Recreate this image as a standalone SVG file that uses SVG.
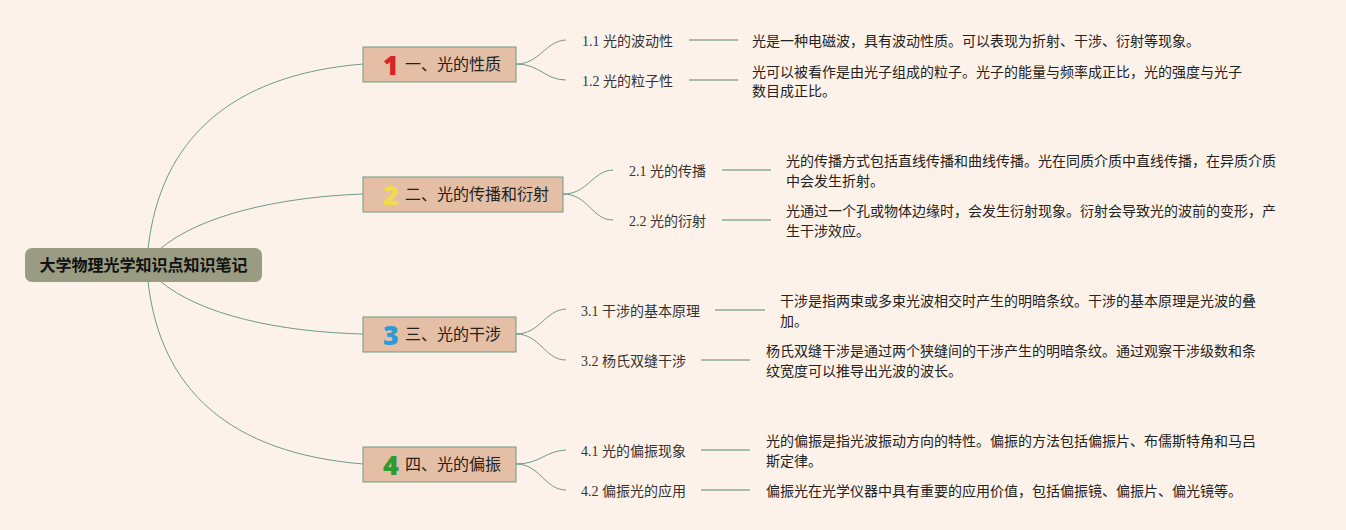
<svg xmlns="http://www.w3.org/2000/svg" width="1346" height="530" viewBox="0 0 1346 530">
<style>
.bg{fill:#fdf2e9}
.conn{fill:none;stroke:#6e9a8a;stroke-width:1}
.lead{fill:none;stroke:#a9bdad;stroke-width:2}
.root{fill:#999c82}
.rootT{font-family:"Noto Sans CJK SC","Noto Sans",sans-serif;font-size:16px;font-weight:bold;fill:#111}
.box{fill:#e4bfa6;stroke:#6f9a8a;stroke-width:1}
.nodeT{font-family:"Noto Sans CJK SC","Noto Sans",sans-serif;font-size:16px;fill:#222}
.num{font-family:"Noto Sans","DejaVu Sans",sans-serif;font-size:27px;font-weight:900}
.sub{font-family:"Liberation Serif","Noto Sans CJK SC",serif;font-size:14px;fill:#333}
.desc{font-family:"Noto Sans CJK SC","Noto Sans",sans-serif;font-size:14px;fill:#222}
</style>
<rect class="bg" x="0" y="0" width="1346" height="530"/>
<g id="connectors">
<path class="conn" d="M148,249 C160,140 230,75 363,64"/>
<path class="conn" d="M160,249 C200,215 280,197 363,194"/>
<path class="conn" d="M160,281 C200,315 280,332 363,334"/>
<path class="conn" d="M148,281 C160,390 230,453 363,464"/>
<path class="conn" d="M516,64 C540,64 545,41 566,40"/>
<path class="conn" d="M516,64 C540,64 545,80 566,80"/>
<path class="conn" d="M563,194 C588,194 592,171 613,170"/>
<path class="conn" d="M563,194 C588,194 592,220 613,220"/>
<path class="conn" d="M516,334 C540,334 545,310 566,309"/>
<path class="conn" d="M516,334 C540,334 545,360 566,360"/>
<path class="conn" d="M516,464 C540,464 545,451 566,450"/>
<path class="conn" d="M516,464 C540,464 545,490 566,490"/>
<line class="lead" x1="689" y1="40" x2="738" y2="40"/>
<line class="lead" x1="689" y1="80" x2="738" y2="80"/>
<line class="lead" x1="722" y1="170" x2="771" y2="170"/>
<line class="lead" x1="722" y1="220" x2="771" y2="220"/>
<line class="lead" x1="715" y1="310" x2="765" y2="310"/>
<line class="lead" x1="701" y1="360" x2="750" y2="360"/>
<line class="lead" x1="701" y1="450" x2="750" y2="450"/>
<line class="lead" x1="701" y1="490" x2="750" y2="490"/>
</g>
<g id="root">
<rect class="root" x="25" y="248" width="237" height="34" rx="7"/>
<text class="rootT" x="143.5" y="271" text-anchor="middle">大学物理光学知识点知识笔记</text>
</g>
<g id="n1">
<rect class="box" x="363" y="47" width="153" height="35"/>
<text class="num" x="391" y="75" text-anchor="middle" fill="#d8232a">1</text>
<text class="nodeT" x="405" y="70">一、光的性质</text>
</g>
<g id="n2">
<rect class="box" x="363" y="177" width="200" height="35"/>
<text class="num" x="391" y="205" text-anchor="middle" fill="#f1dc4a">2</text>
<text class="nodeT" x="405" y="200">二、光的传播和衍射</text>
</g>
<g id="n3">
<rect class="box" x="363" y="317" width="153" height="35"/>
<text class="num" x="391" y="345" text-anchor="middle" fill="#2b9ad8">3</text>
<text class="nodeT" x="405" y="340">三、光的干涉</text>
</g>
<g id="n4">
<rect class="box" x="363" y="447" width="153" height="35"/>
<text class="num" x="391" y="475" text-anchor="middle" fill="#2f9a2f">4</text>
<text class="nodeT" x="405" y="470">四、光的偏振</text>
</g>
<g id="n1-1"><text class="sub" x="582" y="46">1.1 光的波动性</text></g>
<g id="d1-1"><text class="desc" x="752" y="46">光是一种电磁波，具有波动性质。可以表现为折射、干涉、衍射等现象。</text></g>
<g id="n1-2"><text class="sub" x="582" y="86">1.2 光的粒子性</text></g>
<g id="d1-2"><text class="desc" x="752" y="77">光可以被看作是由光子组成的粒子。光子的能量与频率成正比，光的强度与光子</text><text class="desc" x="752" y="96">数目成正比。</text></g>
<g id="n2-1"><text class="sub" x="629" y="176">2.1 光的传播</text></g>
<g id="d2-1"><text class="desc" x="786" y="166">光的传播方式包括直线传播和曲线传播。光在同质介质中直线传播，在异质介质</text><text class="desc" x="786" y="186">中会发生折射。</text></g>
<g id="n2-2"><text class="sub" x="629" y="226">2.2 光的衍射</text></g>
<g id="d2-2"><text class="desc" x="786" y="216">光通过一个孔或物体边缘时，会发生衍射现象。衍射会导致光的波前的变形，产</text><text class="desc" x="786" y="236">生干涉效应。</text></g>
<g id="n3-1"><text class="sub" x="581" y="316">3.1 干涉的基本原理</text></g>
<g id="d3-1"><text class="desc" x="780" y="306">干涉是指两束或多束光波相交时产生的明暗条纹。干涉的基本原理是光波的叠</text><text class="desc" x="780" y="326">加。</text></g>
<g id="n3-2"><text class="sub" x="581" y="366">3.2 杨氏双缝干涉</text></g>
<g id="d3-2"><text class="desc" x="766" y="356">杨氏双缝干涉是通过两个狭缝间的干涉产生的明暗条纹。通过观察干涉级数和条</text><text class="desc" x="766" y="376">纹宽度可以推导出光波的波长。</text></g>
<g id="n4-1"><text class="sub" x="581" y="456">4.1 光的偏振现象</text></g>
<g id="d4-1"><text class="desc" x="766" y="446">光的偏振是指光波振动方向的特性。偏振的方法包括偏振片、布儒斯特角和马吕</text><text class="desc" x="766" y="466">斯定律。</text></g>
<g id="n4-2"><text class="sub" x="581" y="496">4.2 偏振光的应用</text></g>
<g id="d4-2"><text class="desc" x="766" y="496">偏振光在光学仪器中具有重要的应用价值，包括偏振镜、偏振片、偏光镜等。</text></g>
</svg>
